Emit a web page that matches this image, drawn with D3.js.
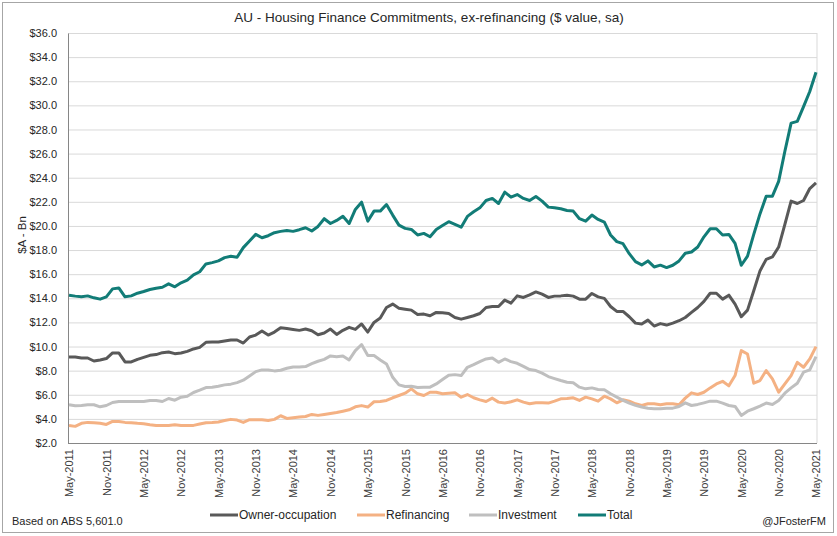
<!DOCTYPE html>
<html>
<head>
<meta charset="utf-8">
<script src="https://cdn.jsdelivr.net/npm/d3@7"></script>
<style>
  body { margin: 0; background: #fff; }
  svg { display: block; }
  .cal { font-family: 'Liberation Sans', Arial, sans-serif; fill: #262626; }
</style>
</head>
<body>
<svg width="837" height="536"></svg>
<script>
const tickLabels = ['May-2011', 'Nov-2011', 'May-2012', 'Nov-2012', 'May-2013', 'Nov-2013', 'May-2014',
  'Nov-2014', 'May-2015', 'Nov-2015', 'May-2016', 'Nov-2016', 'May-2017', 'Nov-2017', 'May-2018',
  'Nov-2018', 'May-2019', 'Nov-2019', 'May-2020', 'Nov-2020', 'May-2021']
const yTicks = [2, 4, 6, 8, 10, 12, 14, 16, 18, 20, 22, 24, 26, 28, 30, 32, 34, 36]

// monthly, May-2011 .. May-2021 ($A bn)
const owner = [9.13, 9.13, 9.05, 9.05, 8.8, 8.89, 9.0, 9.47, 9.47, 8.72, 8.72, 8.94,
  9.1, 9.27, 9.33, 9.49, 9.55, 9.41, 9.47, 9.6, 9.8, 9.93, 10.35, 10.37,
  10.37, 10.46, 10.54, 10.54, 10.29, 10.79, 10.95, 11.28, 10.95, 11.2, 11.56, 11.5,
  11.42, 11.34, 11.45, 11.31, 10.98, 11.12, 11.45, 11.0, 11.34, 11.59, 11.42, 11.87,
  11.2, 12.0, 12.36, 13.24, 13.52, 13.18, 13.1, 13.02, 12.66, 12.69, 12.55, 12.83,
  12.8, 12.74, 12.41, 12.27, 12.41, 12.55, 12.74, 13.24, 13.32, 13.32, 13.85, 13.6,
  14.2, 14.07, 14.29, 14.53, 14.34, 14.07, 14.18, 14.2, 14.26, 14.18, 13.93, 13.93,
  14.4, 14.12, 13.99, 13.32, 12.91, 12.91, 12.47, 11.94, 11.86, 12.19, 11.7, 11.9,
  11.78, 11.94, 12.14, 12.41, 12.83, 13.24, 13.74, 14.42, 14.42, 13.93, 14.26, 13.52,
  12.47, 13.02, 14.62, 16.27, 17.23, 17.43, 18.25, 20.13, 22.06, 21.86, 22.11, 23.1, 23.57]
const refi = [3.46, 3.38, 3.63, 3.71, 3.68, 3.63, 3.54, 3.79, 3.79, 3.71, 3.68, 3.63,
  3.6, 3.52, 3.46, 3.46, 3.46, 3.52, 3.46, 3.46, 3.46, 3.57, 3.68, 3.7,
  3.74, 3.87, 3.96, 3.9, 3.71, 3.93, 3.93, 3.93, 3.87, 3.96, 4.26, 4.04,
  4.09, 4.15, 4.2, 4.37, 4.29, 4.37, 4.45, 4.53, 4.64, 4.75, 5.0, 5.1,
  4.98, 5.42, 5.44, 5.53, 5.75, 5.94, 6.13, 6.49, 6.08, 5.94, 6.21, 6.21,
  6.08, 6.13, 6.16, 5.8, 6.02, 5.75, 5.58, 5.44, 5.72, 5.39, 5.31, 5.42,
  5.58, 5.39, 5.25, 5.33, 5.33, 5.31, 5.47, 5.66, 5.69, 5.75, 5.53, 5.8,
  5.66, 5.47, 5.88, 5.66, 5.33, 5.58, 5.47, 5.25, 5.12, 5.25, 5.25, 5.17,
  5.25, 5.25, 5.17, 5.72, 6.16, 6.02, 6.21, 6.57, 6.9, 7.12, 6.74, 7.59,
  9.66, 9.38, 6.96, 7.18, 8.01, 7.32, 6.21, 6.9, 7.59, 8.69, 8.28, 8.97, 9.99]
const invest = [5.17, 5.09, 5.11, 5.17, 5.17, 5.0, 5.11, 5.36, 5.44, 5.44, 5.44, 5.44,
  5.44, 5.53, 5.53, 5.44, 5.69, 5.55, 5.8, 5.88, 6.19, 6.38, 6.6, 6.62,
  6.7, 6.82, 6.88, 7.01, 7.21, 7.56, 7.92, 8.06, 8.06, 7.98, 8.03, 8.2,
  8.31, 8.31, 8.34, 8.58, 8.78, 8.94, 9.22, 9.16, 9.22, 8.89, 9.66, 10.17,
  9.25, 9.25, 8.89, 8.56, 7.45, 6.82, 6.68, 6.71, 6.6, 6.63, 6.63, 6.9,
  7.26, 7.62, 7.67, 7.59, 8.28, 8.5, 8.75, 8.97, 9.05, 8.69, 8.97, 8.75,
  8.61, 8.36, 8.09, 8.01, 7.79, 7.51, 7.34, 7.18, 7.04, 6.99, 6.63, 6.49,
  6.57, 6.44, 6.41, 6.08, 5.8, 5.53, 5.31, 5.12, 4.98, 4.89, 4.84, 4.84,
  4.89, 4.89, 5.03, 5.33, 5.11, 5.2, 5.33, 5.47, 5.47, 5.31, 5.11, 5.03,
  4.29, 4.64, 4.84, 5.06, 5.31, 5.2, 5.53, 6.13, 6.57, 6.96, 7.87, 8.06, 9.16]
const total = [14.26, 14.18, 14.12, 14.2, 14.04, 13.93, 14.12, 14.78, 14.86, 14.12, 14.2, 14.42,
  14.56, 14.73, 14.84, 14.92, 15.2, 14.95, 15.28, 15.5, 15.94, 16.2, 16.85, 16.96,
  17.1, 17.37, 17.48, 17.4, 18.2, 18.75, 19.3, 19.02, 19.19, 19.44, 19.55, 19.63,
  19.55, 19.69, 19.85, 19.58, 19.96, 20.6, 20.2, 20.46, 20.8, 20.2, 21.37, 21.97,
  20.4, 21.23, 21.23, 21.78, 20.9, 20.07, 19.8, 19.71, 19.25, 19.38, 19.1, 19.71,
  20.04, 20.35, 20.13, 19.9, 20.79, 21.17, 21.5, 22.11, 22.28, 21.86, 22.8, 22.39,
  22.6, 22.28, 22.11, 22.44, 22.06, 21.56, 21.5, 21.42, 21.28, 21.23, 20.6, 20.4,
  20.9, 20.54, 20.32, 19.25, 18.7, 18.53, 17.7, 17.04, 16.77, 17.1, 16.6, 16.75,
  16.55, 16.74, 17.1, 17.73, 17.84, 18.25, 19.1, 19.77, 19.77, 19.25, 19.3, 18.56,
  16.74, 17.5, 19.3, 21.0, 22.47, 22.47, 23.7, 26.19, 28.53, 28.67, 29.9, 31.15, 32.74]

const series = [
  { name: 'Owner-occupation', values: owner, color: '#595959' },
  { name: 'Refinancing', values: refi, color: '#F4B183' },
  { name: 'Investment', values: invest, color: '#BFBFBF' },
  { name: 'Total', values: total, color: '#127C77' }
]

const svg = d3.select('svg'),
  plotL = 68,
  plotR = 817,
  plotT = 33,
  plotB = 443,
  scaleX = d3.scaleLinear().domain([0, total.length - 1]).range([plotL + 1, plotR - 1]),
  scaleY = d3.scaleLinear().domain([2, 36]).range([plotB, plotT]),
  linePath = d3.line().x((d, i) => scaleX(i)).y(d => scaleY(d))

// chart border
svg.append('rect').attr('x', 2.5).attr('y', 2.5).attr('width', 831).attr('height', 530)
  .attr('fill', '#fff').attr('stroke', '#a6a6a6')

// gridlines
svg.append('g')
  .attr('transform', `translate(${plotL},0)`)
  .call(d3.axisLeft(scaleY).tickValues(yTicks.slice(1)).tickSize(-(plotR - plotL)).tickFormat(''))
  .call(g => g.select('.domain').remove())
  .call(g => g.selectAll('line').attr('stroke', '#d9d9d9'))
svg.append('line').attr('x1', plotR).attr('x2', plotR).attr('y1', plotT).attr('y2', plotB)
  .attr('stroke', '#d9d9d9')

// y axis
svg.append('g')
  .attr('transform', `translate(${plotL},0)`)
  .call(d3.axisLeft(scaleY).tickValues(yTicks).tickSize(0).tickPadding(11).tickFormat(d => '$' + d.toFixed(1)))
  .call(g => g.select('.domain').attr('stroke', '#868686'))
  .call(g => g.selectAll('text').attr('class', 'cal').style('font-size', '11px'))

// x axis
const tickIdx = tickLabels.map((d, i) => i * 6)
svg.append('g')
  .attr('transform', `translate(0,${plotB})`)
  .call(d3.axisBottom(scaleX).tickValues(tickIdx).tickSize(0).tickFormat((d, i) => tickLabels[i]))
  .call(g => g.select('.domain').attr('stroke', '#868686').attr('d', `M${plotL},0.5H${plotR}`))
  .call(g => g.selectAll('text')
    .attr('transform', 'rotate(-90)')
    .attr('text-anchor', 'end')
    .attr('x', -6)
    .attr('y', 0)
    .attr('dy', '0.35em')
    .style('font-family', 'Liberation Sans, Arial, sans-serif')
    .style('font-size', '11px')
    .attr('fill', '#404040'))

// series
series.forEach(s => {
  svg.append('path')
    .attr('d', linePath(s.values))
    .attr('fill', 'none')
    .attr('stroke', s.color)
    .attr('stroke-width', 3)
    .attr('stroke-linejoin', 'round')
})

// title, labels
svg.append('text').attr('class', 'cal').attr('x', 429).attr('y', 22)
  .attr('text-anchor', 'middle').style('font-size', '13.5px')
  .text('AU - Housing Finance Commitments, ex-refinancing ($ value, sa)')
svg.append('text').attr('class', 'cal')
  .attr('transform', 'translate(26,235) rotate(-90)')
  .attr('text-anchor', 'middle').style('font-size', '11.5px').text('$A - Bn')
svg.append('text').attr('class', 'cal').attr('x', 12).attr('y', 525)
  .style('font-size', '11px').text('Based on ABS 5,601.0')
svg.append('text').attr('class', 'cal').attr('x', 826).attr('y', 525)
  .attr('text-anchor', 'end').style('font-size', '11px').text('@JFosterFM')

// legend
const legendX = [210, 357, 469, 578]
const legend = svg.append('g')
series.forEach((s, i) => {
  const g = legend.append('g').attr('transform', `translate(${legendX[i]},515)`)
  g.append('line').attr('x1', 0).attr('x2', 28).attr('stroke', s.color).attr('stroke-width', 3)
  g.append('text').attr('class', 'cal').attr('x', 29).attr('dy', '0.35em')
    .style('font-size', '12px').text(s.name)
})
</script>
</body>
</html>
